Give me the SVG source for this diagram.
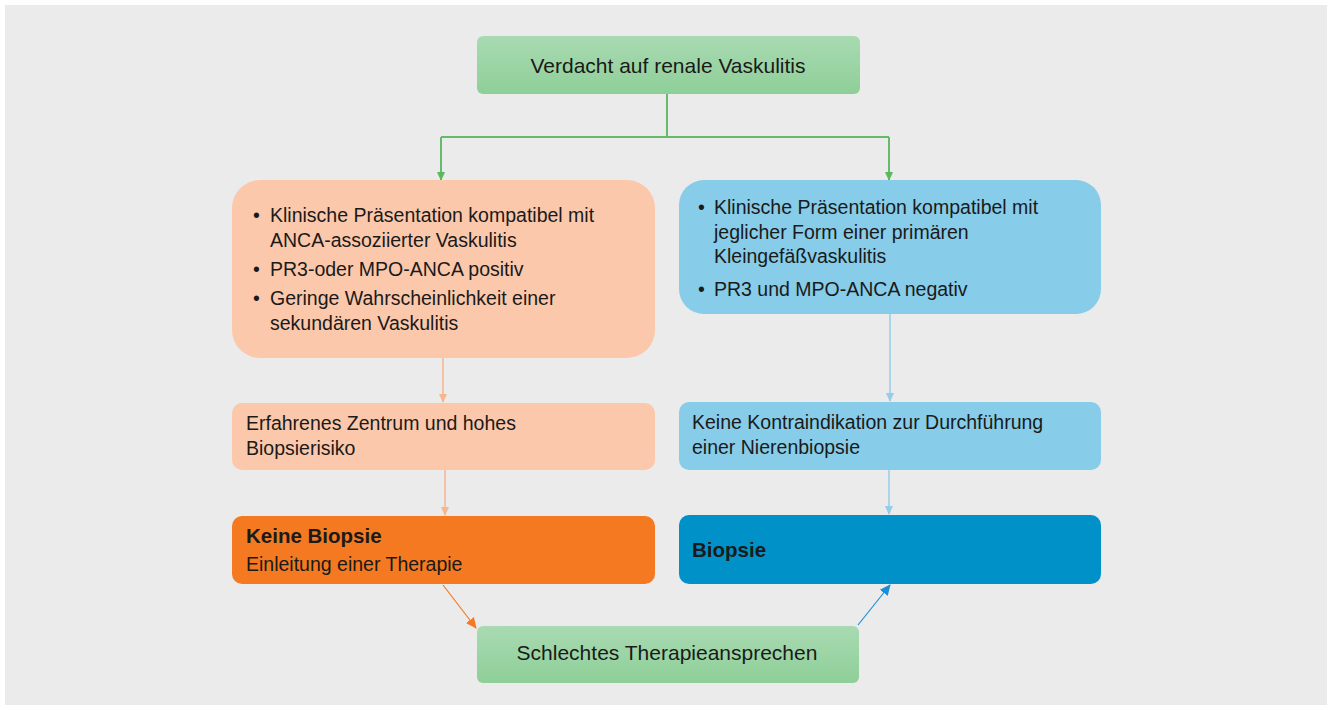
<svg xmlns="http://www.w3.org/2000/svg" width="1332" height="710" viewBox="0 0 1332 710">
<style>
text{font-family:"Liberation Sans",Arial,sans-serif;font-size:19.5px;fill:#1a1a1a}
.b{font-weight:bold;font-size:20.5px}
.t{font-size:21px}
.g{stroke:#66bb6a;stroke-width:2;fill:none}
.p{stroke:#f7b68f;stroke-width:1.5;fill:none}
.l{stroke:#93cde9;stroke-width:1.5;fill:none}
</style>
<defs>
<linearGradient id="gr" x1="0" y1="0" x2="0" y2="1">
<stop offset="0" stop-color="#a9dab2"/>
<stop offset="1" stop-color="#8ecf98"/>
</linearGradient>
<marker id="mg" markerWidth="10" markerHeight="10" refX="8" refY="5" orient="auto" markerUnits="userSpaceOnUse"><path d="M0,1 L9,5 L0,9z" fill="#5cb85c"/></marker>
<marker id="mp" markerWidth="10" markerHeight="10" refX="8" refY="5" orient="auto" markerUnits="userSpaceOnUse"><path d="M0,1 L9,5 L0,9z" fill="#f7b68f"/></marker>
<marker id="ml" markerWidth="10" markerHeight="10" refX="8" refY="5" orient="auto" markerUnits="userSpaceOnUse"><path d="M0,1 L9,5 L0,9z" fill="#93cde9"/></marker>
<marker id="mo" markerWidth="12" markerHeight="12" refX="10" refY="6" orient="auto" markerUnits="userSpaceOnUse"><path d="M0,1 L11,6 L0,11z" fill="#f47920"/></marker>
<marker id="mb" markerWidth="12" markerHeight="12" refX="10" refY="6" orient="auto" markerUnits="userSpaceOnUse"><path d="M0,1 L11,6 L0,11z" fill="#1a8fd6"/></marker>
</defs>
<rect x="0" y="0" width="1332" height="710" fill="#ffffff"/>
<rect x="5" y="5" width="1322" height="700" fill="#ebebeb"/>
<g id="connectors">
<path class="g" d="M667,94 V137 M441,137 H889"/>
<path class="g" d="M441,137 V180" marker-end="url(#mg)"/>
<path class="g" d="M889,137 V180" marker-end="url(#mg)"/>
<path class="p" d="M443,358 V402" marker-end="url(#mp)"/>
<path class="l" d="M890,314 V401" marker-end="url(#ml)"/>
<path class="p" d="M445,470 V515" marker-end="url(#mp)"/>
<path class="l" d="M889,470 V514" marker-end="url(#ml)"/>
<path d="M443,585 L476,628" stroke="#f47920" stroke-width="1.2" fill="none" marker-end="url(#mo)"/>
<path d="M858,625 L890,585" stroke="#1a8fd6" stroke-width="1.2" fill="none" marker-end="url(#mb)"/>
</g>
<g id="n1">
<rect x="477" y="36" width="383" height="58" rx="6" fill="url(#gr)"/>
<text x="668" y="73" text-anchor="middle" class="t">Verdacht auf renale Vaskulitis</text>
</g>
<g id="n2">
<rect x="232" y="180" width="423" height="178" rx="28" fill="#fcc8ab"/>
<text x="253" y="222">•</text><text x="270" y="222">Klinische Präsentation kompatibel mit</text>
<text x="270" y="247">ANCA-assoziierter Vaskulitis</text>
<text x="253" y="276">•</text><text x="270" y="276">PR3-oder MPO-ANCA positiv</text>
<text x="253" y="305">•</text><text x="270" y="305">Geringe Wahrscheinlichkeit einer</text>
<text x="270" y="330">sekundären Vaskulitis</text>
</g>
<g id="n3">
<rect x="679" y="180" width="422" height="134" rx="25" fill="#87cce8"/>
<text x="698" y="214">•</text><text x="714" y="214">Klinische Präsentation kompatibel mit</text>
<text x="714" y="239">jeglicher Form einer primären</text>
<text x="714" y="263">Kleingefäßvaskulitis</text>
<text x="698" y="296">•</text><text x="714" y="296">PR3 und MPO-ANCA negativ</text>
</g>
<g id="n4">
<rect x="232" y="403" width="423" height="67" rx="10" fill="#fcc8ab"/>
<text x="246" y="430">Erfahrenes Zentrum und hohes</text>
<text x="246" y="455">Biopsierisiko</text>
</g>
<g id="n5">
<rect x="679" y="402" width="422" height="68" rx="10" fill="#87cce8"/>
<text x="692" y="429">Keine Kontraindikation zur Durchführung</text>
<text x="692" y="454">einer Nierenbiopsie</text>
</g>
<g id="n6">
<rect x="232" y="516" width="423" height="68" rx="10" fill="#f47920"/>
<text x="246" y="543" class="b">Keine Biopsie</text>
<text x="246" y="571">Einleitung einer Therapie</text>
</g>
<g id="n7">
<rect x="679" y="515" width="422" height="69" rx="10" fill="#0091c8"/>
<text x="692" y="557" class="b">Biopsie</text>
</g>
<g id="n8">
<rect x="477" y="626" width="382" height="57" rx="6" fill="url(#gr)"/>
<text x="667" y="660" text-anchor="middle" class="t">Schlechtes Therapieansprechen</text>
</g>
</svg>
